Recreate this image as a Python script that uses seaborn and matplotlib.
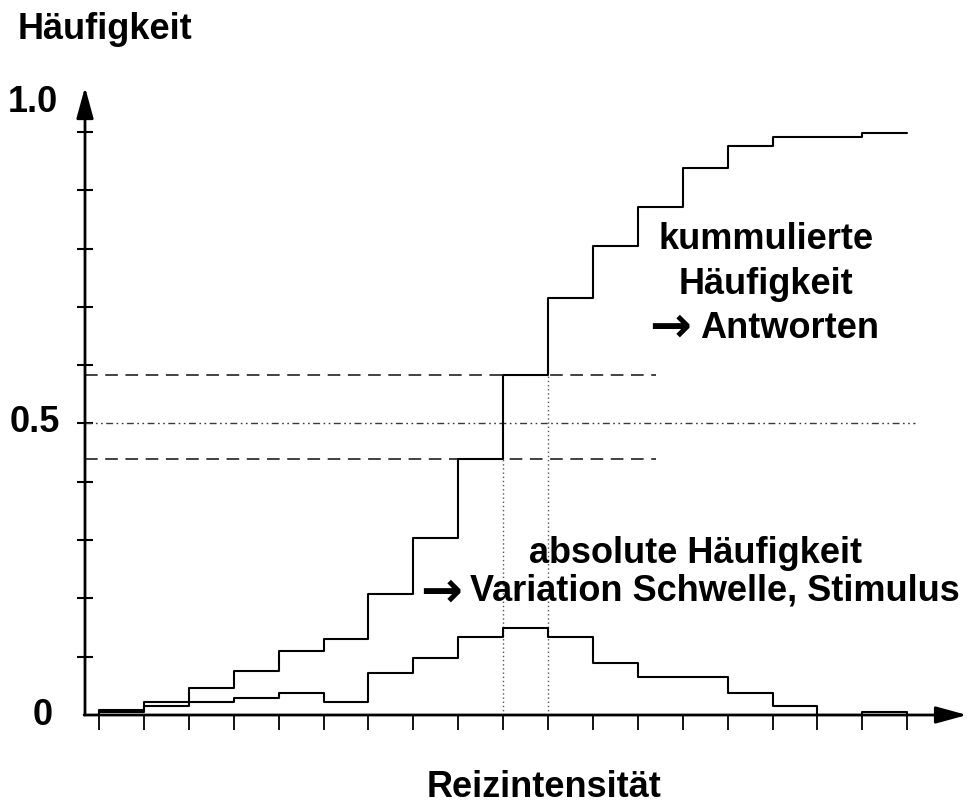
import matplotlib
matplotlib.use("Agg")
import numpy as np
import pandas as pd
import seaborn as sns
import matplotlib.pyplot as plt

# ---------------- data ----------------
bin_edges = list(range(19))                      # 18 intensity classes
abs_freq = [0.005, 0.015, 0.022, 0.030, 0.038, 0.022, 0.072, 0.097, 0.134,
            0.150, 0.134, 0.089, 0.065, 0.065, 0.038, 0.016, 0.000, 0.006]
cum_freq = [0.009, 0.022, 0.046, 0.076, 0.110, 0.131, 0.207, 0.304, 0.439,
            0.583, 0.715, 0.805, 0.871, 0.938, 0.976, 0.992, 0.992, 0.998]
y_tick_values = [0.1, 0.2, 0.3, 0.4, 0.5, 0.6, 0.7, 0.8, 0.9, 1.0]
y_labels = ["0", "0.5", "1.0"]
dashed_levels = [0.439, 0.583]
dotted_x = [9, 10]
half_level = 0.5

W, H = 971, 807
sns.set_style("white")
plt.rcParams["font.family"] = ["Liberation Sans", "DejaVu Sans"]

fig = plt.figure(figsize=(W / 100, H / 100), dpi=100)
ax = fig.add_axes([0, 0, 1, 1])

# step curves
abs_df = pd.DataFrame({"x": [0] + bin_edges, "y": [0] + abs_freq + [0]})
cum_df = pd.DataFrame({"x": [0] + bin_edges, "y": [0] + cum_freq + [cum_freq[-1]]})
sns.lineplot(data=cum_df, x="x", y="y", drawstyle="steps-post", estimator=None,
             sort=False, color="black", lw=1.5, ax=ax)
sns.lineplot(data=abs_df, x="x", y="y", drawstyle="steps-post", estimator=None,
             sort=False, color="black", lw=1.5, ax=ax)

y_axis_x = -0.312
# reference lines
for lv in dashed_levels:
    ax.plot([y_axis_x, 12.4], [lv, lv], color="#333333", lw=1.3,
            linestyle=(0, (7.0, 4.2)), zorder=1)
ax.plot([y_axis_x, 18.17], [half_level, half_level], color="#3a3a3a", lw=1.0,
        linestyle=(0, (5, 2.5, 1.2, 2.5, 1.2, 2.5)), zorder=1)
for xv, lv in zip(dotted_x, dashed_levels):
    ax.plot([xv, xv], [0, lv], color="#555555", lw=1.0,
            linestyle=(0, (1, 2)), zorder=1)

ax.set_xlim(-2.205, 19.42)
ax.set_ylim(-0.1578, 1.2264)
ax.set_xlabel("")
ax.set_ylabel("")

# axes: hidden spines positioned so ticks sit on the arrows
for s in ax.spines.values():
    s.set_visible(False)
ax.spines["left"].set_position(("data", y_axis_x))
ax.spines["bottom"].set_position(("data", 0))
ax.set_xticks(bin_edges)
ax.set_yticks(y_tick_values)
ax.tick_params(axis="y", which="major", left=True, right=False,
               direction="inout", length=11, width=1.5,
               labelleft=False, color="black")
ax.tick_params(axis="x", which="major", bottom=True, top=False,
               direction="out", length=11, width=1.3,
               labelbottom=False, color="black")
ax.grid(False)

arrow_style = "-|>,head_length=0.95,head_width=0.26"
ax.annotate("", xy=(y_axis_x, 1.077), xytext=(y_axis_x, 0),
            arrowprops=dict(arrowstyle=arrow_style, color="black", lw=2,
                            shrinkA=0, shrinkB=0, mutation_scale=20))
ax.annotate("", xy=(19.33, 0), xytext=(y_axis_x - 0.02, 0),
            arrowprops=dict(arrowstyle=arrow_style, color="black", lw=2,
                            shrinkA=0, shrinkB=0, mutation_scale=20))


def ftext(px, py, s, ha="left"):
    fig.text(px / W, 1 - py / H, s, ha=ha, va="baseline", fontsize=26,
             fontweight="bold", color="black")


def farrow(px, py):
    fig.text(px / W, 1 - py / H, "→", ha="center", va="center", fontsize=36,
             fontweight="bold", family=["DejaVu Sans"], color="black")


ftext(18, 39, "Häufigkeit")
ftext(544, 797, "Reizintensität", ha="center")
ftext(58, 112, y_labels[2], ha="right")
ftext(60, 432, y_labels[1], ha="right")
ftext(53, 725, y_labels[0], ha="right")

ftext(766, 249, "kummulierte", ha="center")
ftext(766, 294, "Häufigkeit", ha="center")
farrow(670, 328)
ftext(700, 338, "Antworten")
ftext(696, 563, "absolute Häufigkeit", ha="center")
farrow(441, 593)
ftext(470, 600, "Variation Schwelle, Stimulus")

fig.savefig("out.png", dpi=100)
